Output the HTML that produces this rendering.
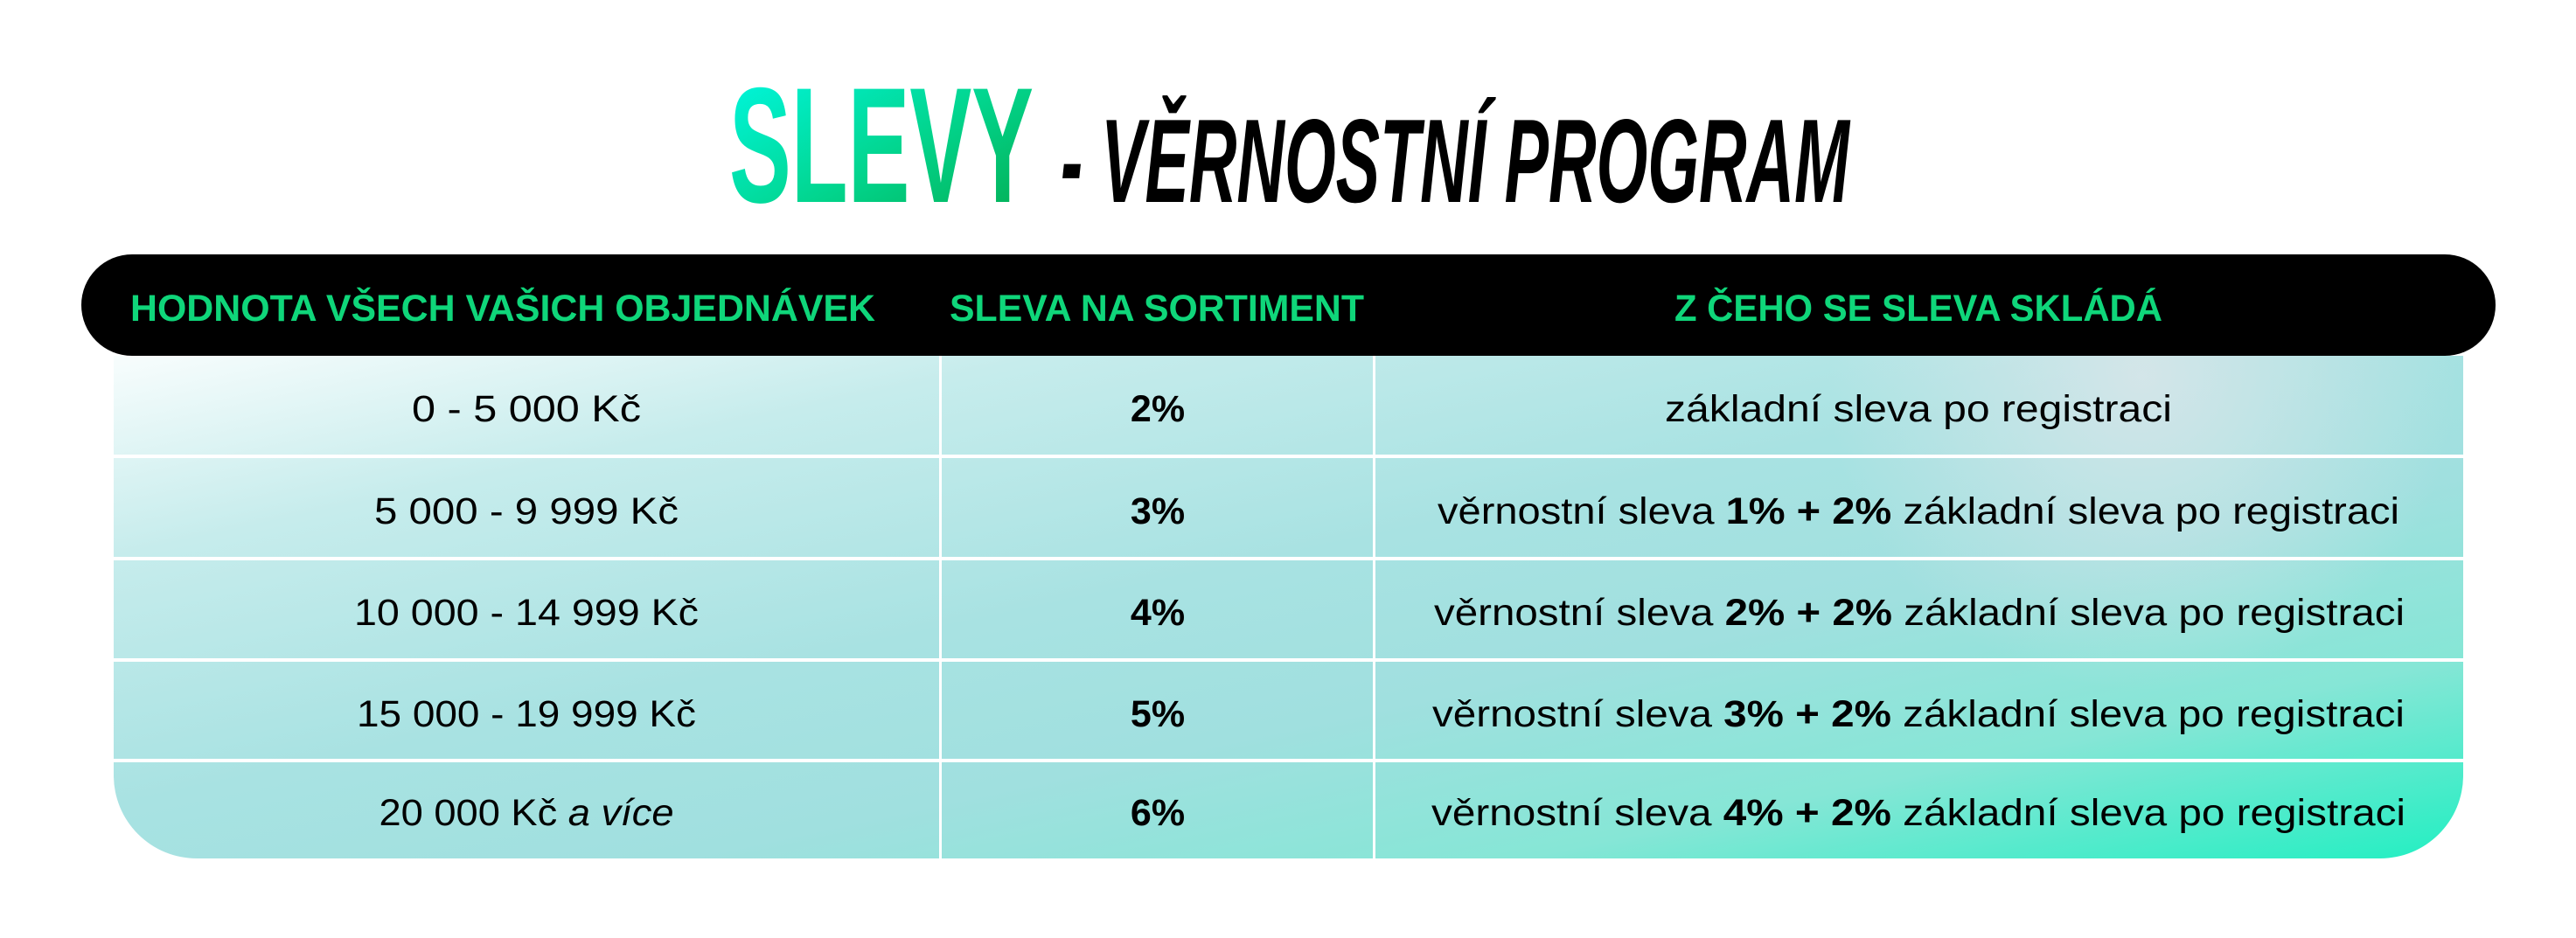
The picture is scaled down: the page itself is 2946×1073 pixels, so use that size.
<!DOCTYPE html>
<html><head><meta charset="utf-8">
<style>
html,body{margin:0;padding:0;background:#fff;}
svg{display:block;}
text{font-family:"Liberation Sans",sans-serif;}
</style></head>
<body>
<svg width="2946" height="1073" viewBox="0 0 2946 1073" xmlns="http://www.w3.org/2000/svg">
<defs>
<linearGradient id="titleG" x1="0" y1="0" x2="1" y2="1">
<stop offset="0" stop-color="#00fbe8"/><stop offset="0.55" stop-color="#02d48c"/><stop offset="1" stop-color="#04a84a"/>
</linearGradient>
<linearGradient id="bodyG" x1="0" y1="0" x2="1" y2="1">
<stop offset="0" stop-color="#f8fdfd"/>
<stop offset="0.2" stop-color="#c6ecec"/>
<stop offset="0.45" stop-color="#a8e2e2"/>
<stop offset="0.62" stop-color="#a0e0df"/>
<stop offset="0.8" stop-color="#86e6d6"/>
<stop offset="1" stop-color="#22efc2"/>
</linearGradient>
<radialGradient id="spot" gradientUnits="userSpaceOnUse" cx="2450" cy="430" r="360">
<stop offset="0" stop-color="#dbe6ea" stop-opacity="0.85"/><stop offset="1" stop-color="#dbe6ea" stop-opacity="0"/>
</radialGradient>
</defs>

<g>
<text x="834" y="231" font-size="188" font-weight="bold" fill="url(#titleG)" textLength="348" lengthAdjust="spacingAndGlyphs">SLEVY</text>
<text x="1213" y="231" font-size="136" font-weight="bold" font-style="italic" fill="#000" textLength="902" lengthAdjust="spacingAndGlyphs">- VĚRNOSTNÍ PROGRAM</text>
</g>

<g>
<rect x="93" y="291" width="2761" height="116" rx="58" fill="#000"/>
<g font-weight="bold" font-size="43" fill="#0fd67a">
<text x="149" y="367" textLength="852" lengthAdjust="spacingAndGlyphs">HODNOTA VŠECH VAŠICH OBJEDNÁVEK</text>
<text x="1086" y="367" textLength="474" lengthAdjust="spacingAndGlyphs">SLEVA NA SORTIMENT</text>
<text x="1915" y="367" textLength="558" lengthAdjust="spacingAndGlyphs">Z ČEHO SE SLEVA SKLÁDÁ</text>
</g>
</g>

<g>
<path d="M130 407 H2817 V887 A95 95 0 0 1 2722 982 H225 A95 95 0 0 1 130 887 Z" fill="url(#bodyG)"/>
<path d="M130 407 H2817 V887 A95 95 0 0 1 2722 982 H225 A95 95 0 0 1 130 887 Z" fill="url(#spot)"/>
<g fill="#fff">
<rect x="130" y="520" width="2687" height="4"/>
<rect x="130" y="637" width="2687" height="4"/>
<rect x="130" y="753" width="2687" height="4"/>
<rect x="130" y="868" width="2687" height="4"/>
<rect x="1074" y="407" width="3" height="575"/>
<rect x="1570" y="407" width="3" height="575"/>
</g>

<g font-size="43" fill="#000" text-anchor="middle">
<text x="602" y="482" textLength="262" lengthAdjust="spacingAndGlyphs">0 - 5 000 Kč</text>
<text x="602" y="599" textLength="348" lengthAdjust="spacingAndGlyphs">5 000 - 9 999 Kč</text>
<text x="602" y="715" textLength="394" lengthAdjust="spacingAndGlyphs">10 000 - 14 999 Kč</text>
<text x="602" y="831" textLength="388" lengthAdjust="spacingAndGlyphs">15 000 - 19 999 Kč</text>
<text x="602" y="944" textLength="337" lengthAdjust="spacingAndGlyphs">20 000 Kč <tspan font-style="italic">a více</tspan></text>

<text x="1324" y="482" font-weight="bold">2%</text>
<text x="1324" y="599" font-weight="bold">3%</text>
<text x="1324" y="715" font-weight="bold">4%</text>
<text x="1324" y="831" font-weight="bold">5%</text>
<text x="1324" y="944" font-weight="bold">6%</text>

<text x="2194" y="482" textLength="580" lengthAdjust="spacingAndGlyphs">základní sleva po registraci</text>
<text x="2194" y="599" textLength="1100" lengthAdjust="spacingAndGlyphs">věrnostní sleva <tspan font-weight="bold">1% + 2%</tspan> základní sleva po registraci</text>
<text x="2195" y="715" textLength="1110" lengthAdjust="spacingAndGlyphs">věrnostní sleva <tspan font-weight="bold">2% + 2%</tspan> základní sleva po registraci</text>
<text x="2194" y="831" textLength="1112" lengthAdjust="spacingAndGlyphs">věrnostní sleva <tspan font-weight="bold">3% + 2%</tspan> základní sleva po registraci</text>
<text x="2194" y="944" textLength="1114" lengthAdjust="spacingAndGlyphs">věrnostní sleva <tspan font-weight="bold">4% + 2%</tspan> základní sleva po registraci</text>
</g>
</g>
</svg>
</body></html>
